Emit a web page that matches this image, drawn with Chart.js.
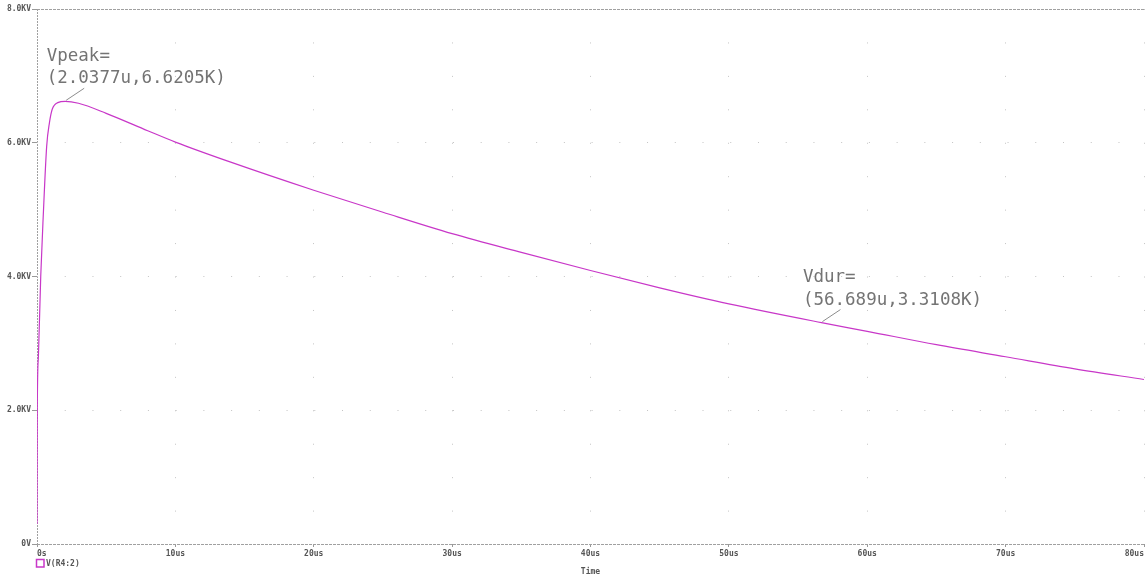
<!DOCTYPE html>
<html><head><meta charset="utf-8">
<script src="https://cdn.jsdelivr.net/npm/chart.js@4"></script>
<style>html,body{margin:0;padding:0;background:#fff;overflow:hidden}canvas{display:block}</style>
</head><body>
<canvas id="c" width="1146" height="577"></canvas>
<script>
// ---- data (time in microseconds, voltage in kV) ----
const timeUs    = [0, 0.02, 0.1, 0.27, 0.45, 0.7, 0.9, 1.1, 1.5, 2.04, 3, 5, 8, 10, 14, 20, 25, 30, 35, 40, 45, 50, 56.689, 60, 65, 70, 75, 80];
const voltageKV = [0.3, 2.0, 2.8, 4.0, 4.9, 5.95, 6.3, 6.5, 6.6, 6.62, 6.59, 6.44, 6.18, 6.01, 5.71, 5.29, 4.96, 4.64, 4.36, 4.09, 3.83, 3.59, 3.31, 3.18, 2.98, 2.80, 2.62, 2.46];
const xTickLabels = ['0s', '10us', '20us', '30us', '40us', '50us', '60us', '70us', '80us'];
const yTickLabels = ['0V', '2.0KV', '4.0KV', '6.0KV', '8.0KV'];
const seriesName = 'V(R4:2)';
const axisTitle = 'Time';
const markerNames  = ['Vpeak=', 'Vdur='];
const markerTimes  = [2.0377, 56.689];
const markerValues = [6.6205, 3.3108];
const markerLabels = ['(2.0377u,6.6205K)', '(56.689u,3.3108K)'];

const lineColor = '#c837c8';
const tickFont = {family: 'DejaVu Sans Mono', size: 8, weight: 'bold'};

const markerPlugin = {
  id: 'markers',
  afterDraw(chart) {
    const {ctx, scales: {x, y}} = chart;
    ctx.save();
    for (let i = 0; i < markerTimes.length; i++) {
      const px = x.getPixelForValue(markerTimes[i]);
      const py = y.getPixelForValue(markerValues[i]);
      ctx.strokeStyle = '#8c8c8c';
      ctx.lineWidth = 1;
      ctx.beginPath();
      ctx.moveTo(px + 1, py - 1);
      ctx.lineTo(px + 19, py - 13);
      ctx.stroke();
      ctx.font = '17.5px "DejaVu Sans Mono"';
      ctx.fillStyle = '#747474';
      ctx.textBaseline = 'alphabetic';
      ctx.textAlign = 'left';
      ctx.fillText(markerNames[i], px - 18.5, py - 40.5);
      ctx.fillText(markerLabels[i], px - 18.5, py - 18);
    }
    // legend entry
    const lx = x.left - 1;
    ctx.strokeStyle = lineColor;
    ctx.lineWidth = 1.5;
    ctx.strokeRect(lx + 0.5, 559.5, 7.5, 7.5);
    ctx.font = 'bold 8px "DejaVu Sans Mono"';
    ctx.fillStyle = '#555';
    ctx.textBaseline = 'middle';
    ctx.fillText(seriesName, lx + 10, 563.5);
    ctx.restore();
  }
};

new Chart(document.getElementById('c'), {
  type: 'line',
  data: {
    datasets: [{
      label: seriesName,
      data: timeUs.map((t, i) => ({x: t, y: voltageKV[i]})),
      borderColor: lineColor,
      borderWidth: 1.2,
      pointRadius: 0,
      cubicInterpolationMode: 'monotone',
      fill: false
    }]
  },
  options: {
    responsive: false,
    animation: false,
    devicePixelRatio: 1,
    layout: {padding: {top: 9, right: 0, left: 0, bottom: 0}},
    plugins: {legend: {display: false}, tooltip: {enabled: false}},
    scales: {
      x: {
        type: 'linear', min: 0, max: 80,
        ticks: {stepSize: 10, align: 'inner', maxRotation: 0, autoSkip: false, padding: 2,
                color: '#555', font: tickFont, callback: (v, i) => xTickLabels[i]},
        grid: {color: c => (c.tick && c.tick.value === 0) ? '#a0a0a0' : '#c4c4c4',
               lineWidth: 1, tickLength: 3, tickColor: '#999'},
        border: {display: false, dash: c => (c.tick && c.tick.value === 0) ? [2, 1] : [1, 32.44]},
        title: {display: true, text: axisTitle, color: '#555', font: tickFont, padding: {top: 0, bottom: 0}},
        afterFit: s => { s.height = 33; }
      },
      y: {
        min: 0, max: 8,
        ticks: {stepSize: 2, padding: 1, color: '#555', font: tickFont, callback: (v, i) => yTickLabels[i]},
        grid: {color: c => (c.tick && (c.tick.value === 0 || c.tick.value === 8)) ? '#a0a0a0' : '#c4c4c4',
               lineWidth: 1, tickLength: 5, tickColor: '#999'},
        border: {display: false, dash: c => (c.tick && (c.tick.value === 0 || c.tick.value === 8)) ? [3, 1] : [1, 26.73]},
        afterFit: s => { s.width = 37; }
      }
    }
  },
  plugins: [markerPlugin]
});
</script>
</body></html>
